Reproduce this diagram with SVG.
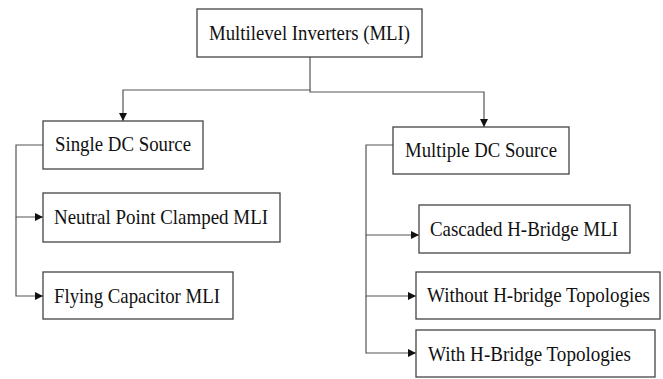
<svg xmlns="http://www.w3.org/2000/svg" width="663" height="379" viewBox="0 0 663 379">
<style>
.box{fill:#fff;stroke:#444;stroke-width:1.3}
.t{font-family:"Liberation Serif","Times New Roman",serif;font-size:22px;fill:#111}
.s{font-size:20px}
.c{fill:none;stroke:#555;stroke-width:1.2}
</style>
<defs>
<marker id="ah" viewBox="0 0 10 10" refX="10" refY="5" markerWidth="8" markerHeight="8" markerUnits="userSpaceOnUse" orient="auto">
<path d="M0,0 L10,5 L0,10 z" fill="#111"/>
</marker>
</defs>
<rect width="663" height="379" fill="#fff"/>
<g id="connectors">
<path class="c" d="M310,57 V90 H123 V121" marker-end="url(#ah)"/>
<path class="c" d="M310,90 V92 H484 V127" marker-end="url(#ah)"/>
<path class="c" d="M43,145 H16 V217 H43" marker-end="url(#ah)"/>
<path class="c" d="M16,217 V296 H43" marker-end="url(#ah)"/>
<path class="c" d="M393,145 H366 V235 H419" marker-end="url(#ah)"/>
<path class="c" d="M366,235 V296 H416" marker-end="url(#ah)"/>
<path class="c" d="M366,296 V353 H416" marker-end="url(#ah)"/>
</g>
<g id="mli">
<rect class="box" x="197" y="9" width="225" height="48"/>
<text class="t" x="209" y="40" textLength="201" lengthAdjust="spacingAndGlyphs">Multilevel Inverters (MLI)</text>
</g>
<g id="single">
<rect class="box" x="43" y="121" width="160" height="48"/>
<text class="t" x="55" y="151" textLength="136" lengthAdjust="spacingAndGlyphs">Single DC Source</text>
</g>
<g id="multiple">
<rect class="box" x="393" y="127" width="176" height="47"/>
<text class="t" x="405" y="157" textLength="152" lengthAdjust="spacingAndGlyphs">Multiple DC Source</text>
</g>
<g id="npc">
<rect class="box" x="43" y="193" width="237" height="49"/>
<text class="t" x="54" y="224" textLength="214" lengthAdjust="spacingAndGlyphs">Neutral Point Clamped MLI</text>
</g>
<g id="flying">
<rect class="box" x="43" y="272" width="190" height="47"/>
<text class="t" x="54" y="303" textLength="166" lengthAdjust="spacingAndGlyphs">Flying Capacitor MLI</text>
</g>
<g id="cascaded">
<rect class="box" x="419" y="205" width="211" height="48"/>
<text class="t" x="430" y="236" textLength="188" lengthAdjust="spacingAndGlyphs">Cascaded H-Bridge MLI</text>
</g>
<g id="without">
<rect class="box" x="416" y="272" width="244" height="47"/>
<text class="t s" x="427" y="302" textLength="223" lengthAdjust="spacingAndGlyphs">Without H-bridge Topologies</text>
</g>
<g id="with">
<rect class="box" x="416" y="330" width="239" height="47"/>
<text class="t" x="428" y="361" textLength="203" lengthAdjust="spacingAndGlyphs">With H-Bridge Topologies</text>
</g>
</svg>
